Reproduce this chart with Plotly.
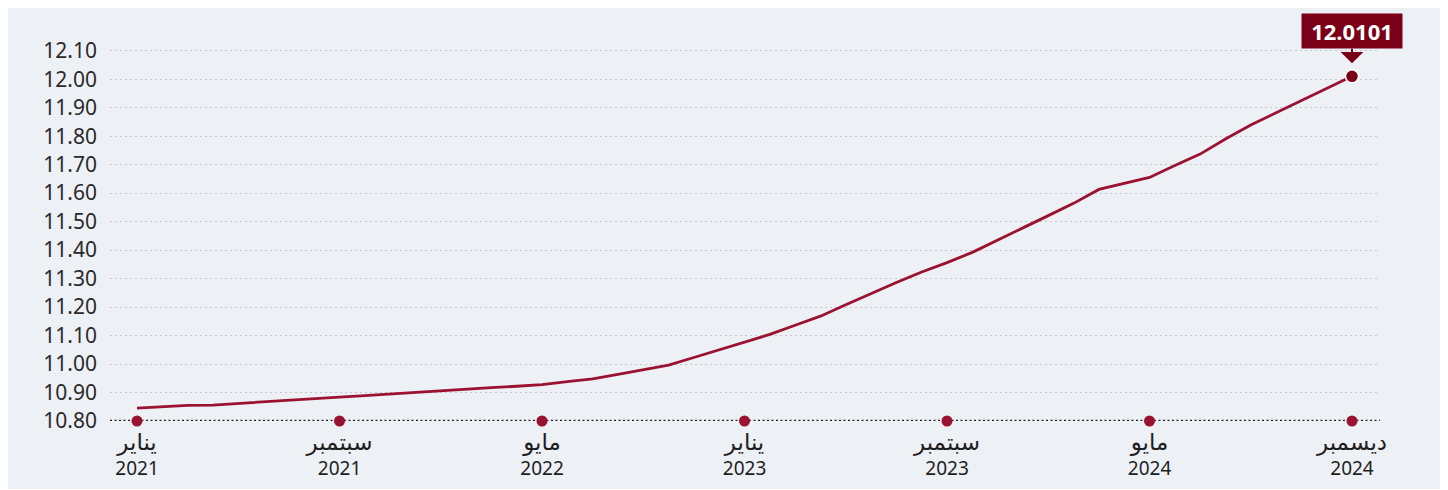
import plotly.graph_objects as go

# ---- data ----
values = [
    10.845, 10.851, 10.855, 10.856, 10.862, 10.867, 10.873, 10.878, 10.884,
    10.889, 10.895, 10.900, 10.906, 10.911, 10.917, 10.922, 10.928, 10.938,
    10.948, 10.964, 10.980, 10.996, 11.023, 11.050, 11.077, 11.104, 11.136,
    11.168, 11.208, 11.248, 11.286, 11.323, 11.356, 11.392, 11.436, 11.478,
    11.521, 11.564, 11.613, 11.634, 11.655, 11.697, 11.737, 11.790, 11.839,
    11.882, 11.925, 11.967, 12.0101,
]
x_idx = list(range(len(values)))
tick_pos = [0, 8, 16, 24, 32, 40, 48]
tick_months = ["يناير", "سبتمبر", "مايو", "يناير", "سبتمبر", "مايو", "ديسمبر"]
tick_years = ["2021", "2021", "2022", "2023", "2023", "2024", "2024"]
y_ticks = [10.80, 10.90, 11.00, 11.10, 11.20, 11.30, 11.40, 11.50, 11.60,
           11.70, 11.80, 11.90, 12.00, 12.10]
y_min = 10.80
last_label = "12.0101"

BG = "#edf0f5"
LINE = "#9a1230"
DARK = "#7b0017"

fig = go.Figure()
fig.add_trace(go.Scatter(
    x=x_idx, y=values, mode="lines",
    line=dict(color=LINE, width=2.8), hoverinfo="skip", showlegend=False,
))
fig.add_trace(go.Scatter(
    x=tick_pos, y=[y_min] * len(tick_pos), mode="markers",
    marker=dict(color=LINE, size=11), cliponaxis=False,
    hoverinfo="skip", showlegend=False,
))
fig.add_trace(go.Scatter(
    x=[x_idx[-1]], y=[values[-1]], mode="markers",
    marker=dict(color=DARK, size=13, line=dict(color="white", width=1.5)),
    cliponaxis=False, hoverinfo="skip", showlegend=False,
))

fig.add_annotation(
    x=x_idx[-1], y=values[-1], xref="x", yref="y",
    text="<b>" + last_label + "</b>",
    font=dict(family="Noto Sans", size=22, color="white"),
    bgcolor=DARK, borderpad=4, width=92, height=26,
    showarrow=True, ax=0, ay=-45, axref="pixel", ayref="pixel",
    arrowhead=1, arrowsize=1.9, arrowwidth=2, arrowcolor=DARK, standoff=13,
)

# background panel with thin white frame
fig.add_shape(type="rect", xref="paper", yref="paper",
              x0=-0.0803, x1=1.0472, y0=-0.1739, y1=1.0563,
              fillcolor=BG, line=dict(width=0), layer="below")
# dotted baseline
fig.add_shape(type="line", xref="paper", yref="y", x0=0, x1=1,
              y0=y_min, y1=y_min,
              line=dict(color="#222222", width=2.5, dash="2px,2.5px"), layer="below")

fig.update_layout(
    width=1448, height=490,
    margin=dict(l=102, r=76, t=22, b=77),
    paper_bgcolor="white", plot_bgcolor=BG,
    font=dict(family="Noto Sans, DejaVu Sans, sans-serif", color="#1e1e1e"),
    showlegend=False,
)
fig.update_xaxes(
    range=[-1.067, 49.106], showgrid=False, zeroline=False, showline=False,
    tickmode="array", tickvals=tick_pos,
    ticktext=["<span style='font-size:23px'>" + m + "</span><br>" + y
              for m, y in zip(tick_months, tick_years)],
    tickfont=dict(size=19, color="#1e1e1e"), ticks="", ticklabelstandoff=9,
)
fig.update_yaxes(
    range=[10.80, 12.1727], zeroline=False, showline=False,
    tickmode="array", tickvals=y_ticks, tickformat=".2f",
    tickfont=dict(size=21, color="#2a2a2a"), ticks="",
    showgrid=True, gridcolor="#c4c7cd", gridwidth=1, griddash="2px,3px",
    ticklabelstandoff=12,
)

fig.write_html("out.html")
